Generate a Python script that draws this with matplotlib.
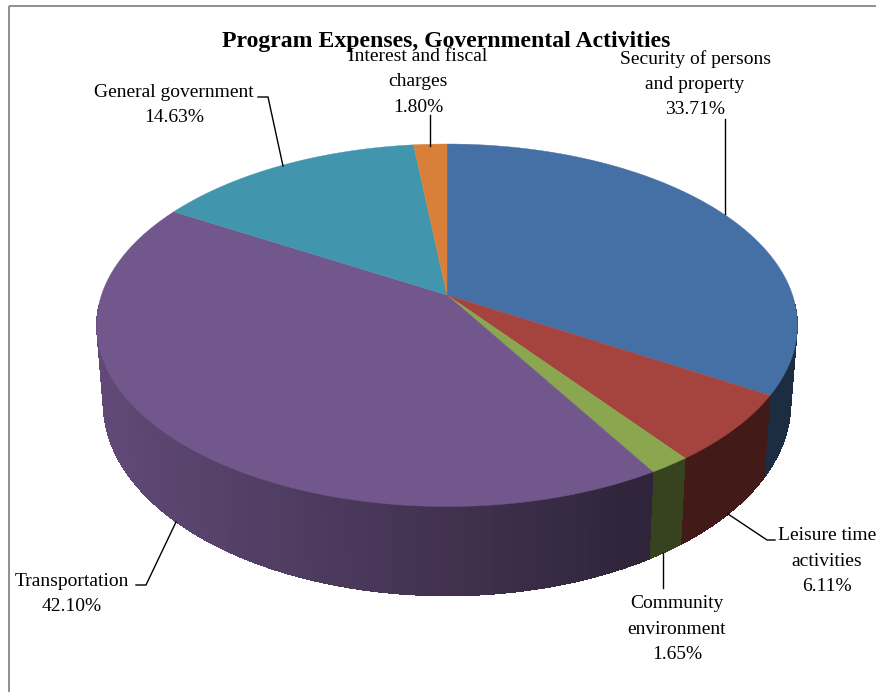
import numpy as np
import matplotlib
matplotlib.use('Agg')
import matplotlib.pyplot as plt
from matplotlib.collections import PolyCollection
from matplotlib.patches import Rectangle

# Program expenses by function (percent of total), clockwise from 12 o'clock
categories = ['Security of persons\nand property', 'Leisure time\nactivities',
              'Community\nenvironment', 'Transportation',
              'General government', 'Interest and fiscal\ncharges']
values = [33.71, 6.11, 1.65, 42.10, 14.63, 1.80]
colors = ['#4570a5', '#a5443f', '#8aa64e', '#72578c', '#4196ae', '#d8803a']
title = 'Program Expenses, Governmental Activities'

SERIF = 'Liberation Serif'


def project(theta, a, b, cy):
    # perspective view of a unit disc, theta clockwise from the back of the pie
    u = np.sin(theta)
    v = -np.cos(theta)
    w = 1 - 0.167 * v
    return 447 + a * u / w, cy + b * v / w


def top_face(theta):
    return project(theta, 345.5, 176.2, 295)


def bottom_face(theta):
    return project(theta, 339, 187, 371.4)


def side_shade(x):
    # wall gets darker going from the left edge towards the front right
    t = np.clip((x - 100) / 560, 0, 1)
    return 0.85 - 0.45 * t


fig = plt.figure(figsize=(8.76, 6.92), dpi=100)
ax = fig.add_axes([0, 0, 1, 1])
ax.set_xlim(0, 876)
ax.set_ylim(692, 0)
ax.axis('off')

# outer frame, right and bottom sides run off the canvas
ax.add_patch(Rectangle((8.5, 6), 900, 720, fill=False, ec='#8f8f8f', lw=1.4))

edges = np.cumsum([0] + values) / 100 * 2 * np.pi

# side wall as thin facets, painted back to front
facets = []
for i, col in enumerate(colors):
    steps = max(int((edges[i + 1] - edges[i]) / np.radians(2)), 1)
    th = np.linspace(edges[i], edges[i + 1], steps + 1)
    base = np.array(matplotlib.colors.to_rgb(col))
    for t0, t1 in zip(th[:-1], th[1:]):
        depth = -np.cos((t0 + t1) / 2)
        # the back of the wall is hidden behind the top surface
        if depth < 0.05:
            continue
        x0, y0 = top_face(np.array([t0, t1]))
        x1, y1 = bottom_face(np.array([t1, t0]))
        quad = list(zip(x0, y0)) + list(zip(x1, y1))
        shade = side_shade((x0.mean() + x1.mean()) / 2)
        facets.append((depth, quad, base * shade))
facets.sort(key=lambda f: f[0])
# no antialiasing here, blended facet edges would show up as seams
ax.add_collection(PolyCollection([f[1] for f in facets], facecolors=[f[2] for f in facets],
                                 edgecolors='none', antialiaseds=False))

# top surface of each slice
for i, col in enumerate(colors):
    th = np.linspace(edges[i], edges[i + 1], 120)
    xs, ys = top_face(th)
    ax.fill(np.r_[447, xs], np.r_[295, ys], color=col, lw=0.3)

# leader lines
leaders = [
    ([725, 725], [119, 214]),
    ([775, 767, 728], [540, 540, 514]),
    ([663, 663], [588, 553]),
    ([136, 146, 176], [585, 585, 522]),
    ([258, 268, 283], [97, 97, 166]),
    ([430, 430], [115, 146]),
]
for lx, ly in leaders:
    ax.plot(lx, ly, color='black', lw=1.0, solid_joinstyle='miter')

# data labels
label_pos = [(695, 84), (827, 561), (677, 629), (72, 594), (174, 105), (418, 82)]
for name, val, (tx, ty) in zip(categories, values, label_pos):
    ax.text(tx, ty, f'{name}\n{val:.2f}%', ha='center', va='center', ma='center',
            family=SERIF, fontsize=14.0, linespacing=1.62, color='black', clip_on=False)

ax.text(446.5, 41, title, ha='center', va='center', family=SERIF,
        fontsize=17.1, fontweight='bold', color='black')

fig.savefig('out.png', dpi=100)
plt.close(fig)
